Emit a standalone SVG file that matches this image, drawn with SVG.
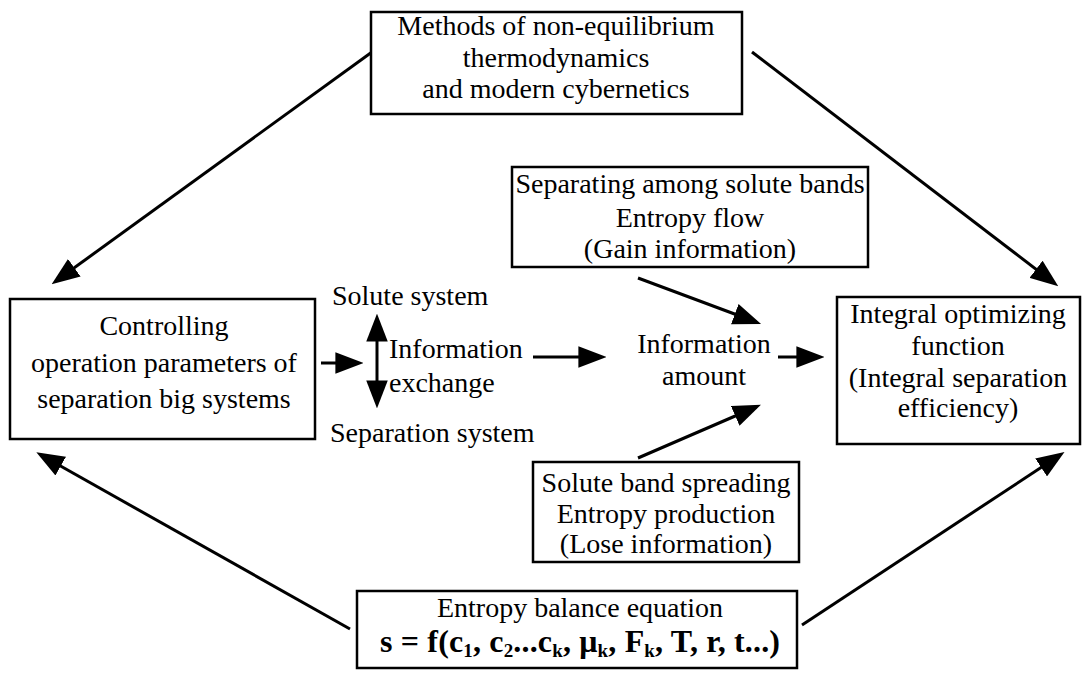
<svg xmlns="http://www.w3.org/2000/svg" width="1086" height="673" viewBox="0 0 1086 673">
<style>
text{font-family:"Liberation Serif","Times New Roman",serif;font-size:28px;fill:#000}
.c{text-anchor:middle}
.box{fill:#fff;stroke:#000;stroke-width:2.5}
.ln{stroke:#000;stroke-width:3;fill:none;marker-end:url(#ah)}
.eq{font-weight:bold;font-size:32px}
.sub{font-size:19px}
</style>
<defs>
<marker id="ah" markerUnits="userSpaceOnUse" markerWidth="28" markerHeight="22" refX="21" refY="10" orient="auto-start-reverse" viewBox="0 0 26 20">
<path d="M0,0 L26,10 L0,20 z" fill="#000"/>
</marker>
</defs>
<rect width="1086" height="673" fill="#fff"/>
<g id="connectors">
<line class="ln" x1="372" y1="52" x2="56" y2="281"/>
<line class="ln" x1="752" y1="52" x2="1054" y2="283"/>
<line class="ln" x1="350" y1="629" x2="41" y2="455"/>
<line class="ln" x1="802" y1="625" x2="1060" y2="455"/>
<line class="ln" x1="638" y1="278" x2="756" y2="322"/>
<line class="ln" x1="638" y1="458" x2="756" y2="407"/>
<line class="ln" x1="321" y1="363" x2="358" y2="363"/>
<line class="ln" x1="533" y1="357" x2="601" y2="357"/>
<line class="ln" x1="778" y1="357" x2="819" y2="357"/>
<line class="ln" x1="377" y1="319" x2="377" y2="403" style="marker-start:url(#ah)"/>
</g>
<g id="methods">
<rect class="box" x="371" y="12" width="371" height="102"/>
<text class="c" x="556" y="35">Methods of non-equilibrium</text>
<text class="c" x="556" y="67">thermodynamics</text>
<text class="c" x="556" y="98">and modern cybernetics</text>
</g>
<g id="controlling">
<rect class="box" x="10" y="299" width="305" height="140"/>
<text class="c" x="164" y="335">Controlling</text>
<text class="c" x="164" y="372">operation parameters of</text>
<text class="c" x="164" y="408">separation big systems</text>
</g>
<g id="exchange">
<text x="332" y="305">Solute system</text>
<text x="389" y="358">Information</text>
<text x="389" y="392">exchange</text>
<text x="330" y="442">Separation system</text>
</g>
<g id="separating">
<rect class="box" x="512" y="167" width="356" height="100"/>
<text class="c" x="690" y="193">Separating among solute bands</text>
<text class="c" x="690" y="227">Entropy flow</text>
<text class="c" x="690" y="258">(Gain information)</text>
</g>
<g id="amount">
<text class="c" x="704" y="353">Information</text>
<text class="c" x="704" y="385">amount</text>
</g>
<g id="integral">
<rect class="box" x="837" y="297" width="243" height="147"/>
<text class="c" x="958" y="323">Integral optimizing</text>
<text class="c" x="958" y="355">function</text>
<text class="c" x="958" y="387">(Integral separation</text>
<text class="c" x="958" y="417">efficiency)</text>
</g>
<g id="spreading">
<rect class="box" x="533" y="462" width="266" height="100"/>
<text class="c" x="666" y="492">Solute band spreading</text>
<text class="c" x="666" y="523">Entropy production</text>
<text class="c" x="666" y="553">(Lose information)</text>
</g>
<g id="balance">
<rect class="box" x="357" y="591" width="440" height="77"/>
<text class="c" x="580" y="617">Entropy balance equation</text>
<text class="eq" x="380" y="652" textLength="400" lengthAdjust="spacing">s = f(c<tspan class="sub" dy="5">1</tspan><tspan dy="-5">, c</tspan><tspan class="sub" dy="5">2</tspan><tspan dy="-5">...c</tspan><tspan class="sub" dy="5">k</tspan><tspan dy="-5">, μ</tspan><tspan class="sub" dy="5">k</tspan><tspan dy="-5">, F</tspan><tspan class="sub" dy="5">k</tspan><tspan dy="-5">, T, r, t...)</tspan></text>
</g>
</svg>
